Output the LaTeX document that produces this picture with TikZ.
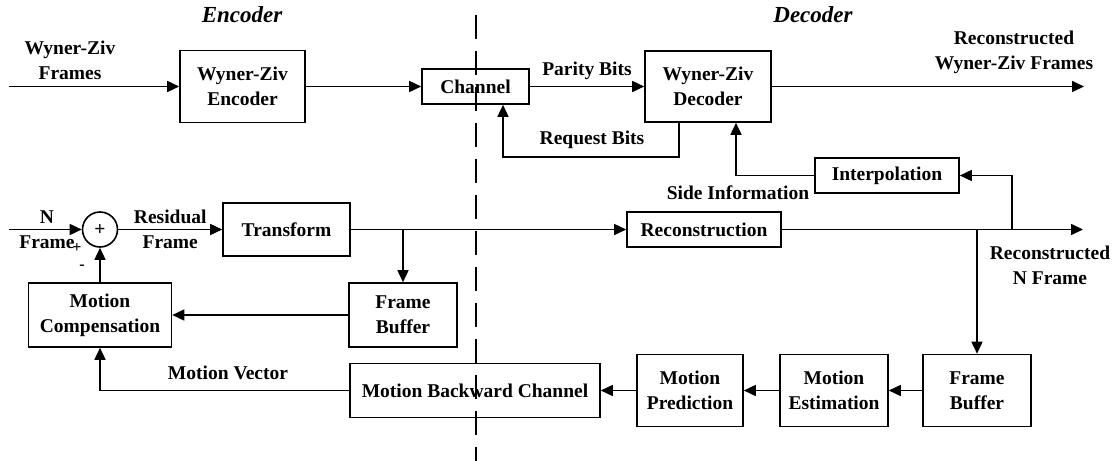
\documentclass[tikz,border=0pt]{standalone}
\usepackage{fontspec}
\setmainfont{Liberation Serif}
\usepackage{tikz}
\usetikzlibrary{arrows.meta}
\tikzstyle{block}  = [rectangle, draw=black, line width=0.8pt, align=center, inner sep=0pt]
\tikzstyle{adder}  = [circle, draw=black, line width=0.8pt, minimum size=17.5pt, inner sep=0pt]
\tikzstyle{arrow}  = [line width=0.8pt, -{Triangle[length=6pt, width=5.5pt]}]
\tikzstyle{wire}   = [line width=0.8pt]
\tikzstyle{lbl}    = [align=center, inner sep=0pt]
\tikzstyle{side}   = [font=\fontsize{11.5}{13}\selectfont\bfseries\itshape]
\tikzstyle{sign}   = [inner sep=0pt, font=\fontsize{8}{9}\selectfont\bfseries]

\begin{document}
\begin{tikzpicture}[x=0.5pt, y=-0.5pt, font=\fontsize{9.75}{12.5}\selectfont\bfseries]
    \useasboundingbox (0,0) rectangle (1116,461);

    % encoder / decoder split
    \coordinate (splittop) at (476,15);
    \coordinate (splitbot) at (476,461);
    \draw [wire, dash pattern=on 12pt off 6pt] (splittop) -- (splitbot);
    \node (enctitle) [side] at (242,15) {Encoder};
    \node (dectitle) [side] at (813,15) {Decoder};

    % Wyner-Ziv frames
    \node (wzenc)   [block, minimum width=62.5pt, minimum height=36pt]   at (242.5,86.5) {Wyner-Ziv\\Encoder};
    \node (channel) [block, minimum width=53.5pt, minimum height=17.5pt] at (475.5,86.5) {Channel};
    \node (wzdec)   [block, minimum width=63pt,   minimum height=35.5pt] at (708,86.5)   {Wyner-Ziv\\Decoder};
    \node (interp)  [block, minimum width=72pt,   minimum height=17.5pt] at (887,175.5)  {Interpolation};

    \coordinate (wzin)  at (9,86.5);
    \coordinate (wzout) at (1084,86.5);
    \node (wzinlbl)  [lbl] at (70,60)     {Wyner-Ziv\\Frames};
    \node (wzoutlbl) [lbl] at (1014,52.5) {Reconstructed\\Wyner-Ziv Frames};

    \draw [arrow] (wzin) -- (wzenc);
    \draw [arrow] (wzenc) -- (channel);
    \draw [arrow] (channel) -- node [lbl, yshift=8pt] {Parity Bits} (wzdec);
    \draw [arrow] (wzdec) -- (wzout);

    \coordinate (reqturn) at (503,157);
    \draw [arrow] ([xshift=-14.5pt]wzdec.south) |- (reqturn) -- (reqturn |- channel.south);
    \node (reqlbl) [lbl] at (592,140) {Request Bits};

    \coordinate (sideturn) at (736,175.5);
    \draw [arrow] (interp.west) -- (sideturn) -- (sideturn |- wzdec.south);
    \node (sidelbl) [lbl] at (738,193) {Side Information};

    % N frames
    \node (adder)     [adder] at (100,229.5) {+};
    \node (transform) [block, minimum width=63.5pt, minimum height=26.5pt] at (286.5,229.5) {Transform};
    \node (recon)     [block, minimum width=77pt,   minimum height=17.5pt] at (704,229.5)   {Reconstruction};
    \node (fbufenc)   [block, minimum width=54pt,   minimum height=32pt]   at (403,315)     {Frame\\Buffer};
    \node (mcomp)     [block, minimum width=71.5pt, minimum height=32pt]   at (100,315)     {Motion\\Compensation};

    \coordinate (nin)  at (9,229.5);
    \coordinate (nout) at (1083,229.5);
    \node (ninlbl)  [lbl]  at (47,229.5)   {N\\Frame};
    \node (plus)    [sign] at (77,248)     {+};
    \node (minus)   [sign] at (82,267)     {-};
    \node (noutlbl) [lbl]  at (1050,265.5) {Reconstructed\\N Frame};

    \draw [arrow] (nin) -- (adder);
    \draw [arrow] (adder) -- node [lbl] {Residual\\Frame} (transform);
    \draw [arrow] (transform) -- (recon);
    \draw [arrow] (recon) -- (nout);

    \coordinate (fbtap) at (403,229.5);
    \draw [arrow] (fbtap) -- (fbufenc);
    \draw [arrow] (fbufenc) -- (mcomp);
    \draw [arrow] (mcomp) -- (adder);

    % motion feedback
    \node (mbc)     [block, minimum width=125pt, minimum height=27pt] at (475,390.5) {Motion Backward Channel};
    \node (mpred)   [block, minimum width=53pt,  minimum height=36pt] at (690,390.5) {Motion\\Prediction};
    \node (mest)    [block, minimum width=54pt,  minimum height=36pt] at (834,390.5) {Motion\\Estimation};
    \node (fbufdec) [block, minimum width=54pt,  minimum height=36pt] at (977,390.5) {Frame\\Buffer};

    \coordinate (fbdtap)    at (977,229.5);
    \coordinate (interptap) at (1012,229.5);
    \draw [arrow] (fbdtap) -- (fbufdec);
    \draw [arrow] (interptap) |- (interp.east);

    \draw [arrow] (fbufdec) -- (mest);
    \draw [arrow] (mest) -- (mpred);
    \draw [arrow] (mpred) -- (mbc);
    \draw [arrow] (mbc.west) -| (mcomp.south);
    \node (mvlbl) [lbl] at (228,373) {Motion Vector};

\end{tikzpicture}
\end{document}
